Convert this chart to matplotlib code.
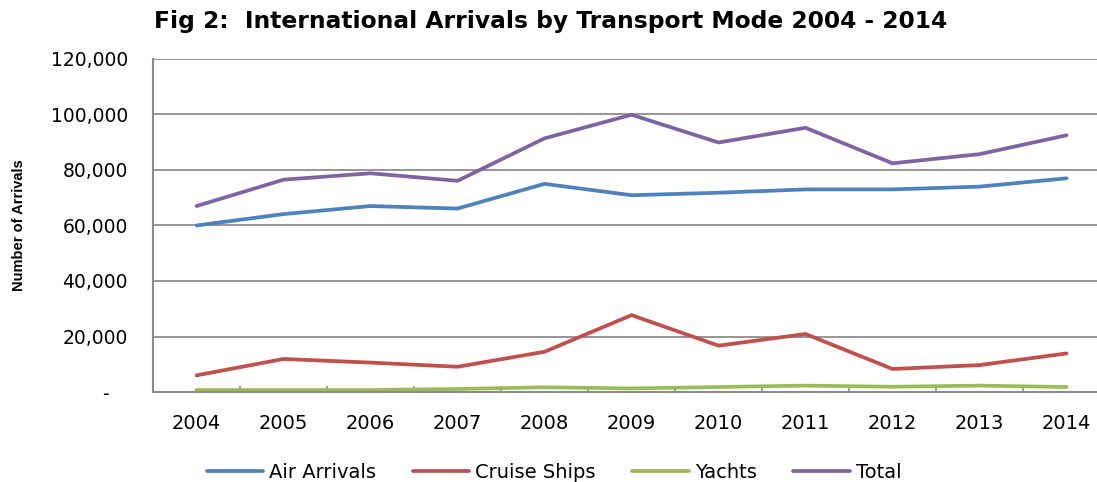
"""
    International arrivals by transport mode, 2004 - 2014
"""
from matplotlib import pyplot as plt
from matplotlib.ticker import FuncFormatter

years = ["2004", "2005", "2006", "2007", "2008", "2009",
         "2010", "2011", "2012", "2013", "2014"]
air_arrivals = [60000, 64100, 67000, 66100, 75000, 70900,
                71800, 73000, 73000, 74000, 77000]
cruise_ships = [6000, 11900, 10600, 9100, 14500, 27700,
                16700, 20900, 8300, 9700, 13900]
yachts = [700, 700, 700, 1100, 1700, 1300,
          1800, 2300, 1900, 2300, 1800]
total = [67000, 76500, 78800, 76100, 91400, 99900,
         89900, 95200, 82400, 85700, 92500]
y_ticks = [0, 20000, 40000, 60000, 80000, 100000, 120000]


def fmt(v, pos):
    if v == 0:
        return "-   "
    return "{:,.0f}".format(v)


def main():
    fig = plt.figure(figsize=(10.97, 4.82), dpi=100)
    ax = fig.add_axes([0.1395, 0.1867, 0.8605, 0.691])

    x = list(range(len(years)))
    series = [(air_arrivals, "Air Arrivals", "#4F81BD"),
              (cruise_ships, "Cruise Ships", "#C0504D"),
              (yachts, "Yachts", "#9BBB59"),
              (total, "Total", "#8064A2")]
    for vals, name, col in series:
        ax.plot(x, vals, color=col, lw=2.7, label=name,
                solid_capstyle="round", solid_joinstyle="miter")

    ax.set_xlim(-0.5, 10.35)
    ax.set_ylim(0, 120000)
    ax.set_yticks(y_ticks)
    ax.yaxis.set_major_formatter(FuncFormatter(fmt))
    ax.set_xticks(x)
    ax.set_xticklabels(years)
    ax.set_xticks([i + 0.5 for i in x[:-1]], minor=True)

    ax.grid(axis="y", color="#8C8C8C", lw=1.3)
    ax.set_axisbelow(True)
    for s in ["top", "right"]:
        ax.spines[s].set_visible(False)
    for s in ["left", "bottom"]:
        ax.spines[s].set_color("#8C8C8C")
        ax.spines[s].set_linewidth(1.5)

    ax.tick_params(axis="y", length=0, pad=18, labelsize=13.5)
    ax.tick_params(axis="x", which="major", length=0, pad=16, labelsize=14)
    ax.tick_params(axis="x", which="minor", length=4, direction="in",
                   color="#8C8C8C", width=1.2)

    ax.set_ylabel("Number of Arrivals", fontsize=10.5, fontweight="bold",
                  family=["Liberation Sans Narrow", "Liberation Sans"])
    ax.yaxis.set_label_coords(-0.135, 0.5)

    fig.text(0.502, 0.955, "Fig 2:  International Arrivals by Transport Mode 2004 - 2014",
             ha="center", va="center", fontsize=16.8, fontweight="bold",
             family="DejaVu Sans")

    fig.legend(loc="center", bbox_to_anchor=(0.505, 0.02), ncol=4,
               frameon=False, fontsize=14, handlelength=2.9,
               handletextpad=0.3, columnspacing=1.9)

    plt.savefig("out.png", dpi=100)


if __name__ == "__main__":
    main()
